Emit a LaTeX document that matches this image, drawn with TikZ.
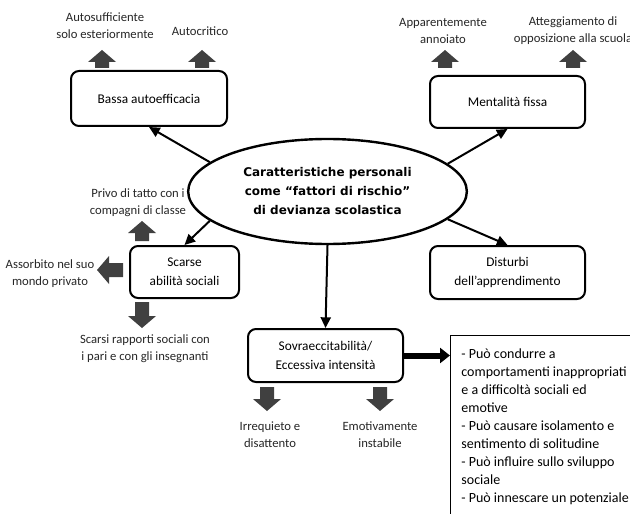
\documentclass[tikz,border=0pt]{standalone}
\usepackage{fontspec}
\setmainfont{Carlito}
\newfontfamily\ellfont{DejaVu Sans}
\usetikzlibrary{arrows.meta}
\usetikzlibrary{shapes.geometric}
\tikzset{box/.style={draw, line width=1.5pt, rounded corners=6pt, align=center, inner sep=0pt, font=\fontsize{10}{14}\selectfont}}
\tikzset{lbl/.style={align=center, inner sep=0pt, text=black!85, font=\fontsize{9.5}{12.75}\selectfont}}
\tikzset{conn/.style={->, line width=1.5pt}}
\tikzset{fat/.style={-{Triangle[length=7.5pt,width=11.25pt]}, line width=4.5pt}}
\tikzset{arrowlen/.store in=\arrowlen, arrowlen=18,
  fatarrow/.pic={\fill[black!75] (-7,0) -- (-7,12-\arrowlen) -- (-14,12-\arrowlen) -- (0,-\arrowlen)
    -- (14,12-\arrowlen) -- (7,12-\arrowlen) -- (7,0) -- cycle;}}

\begin{document}
\begin{tikzpicture}[x=0.75pt, y=-0.75pt, >={Triangle[length=8pt,width=7.5pt]}]
		\useasboundingbox (0,0) rectangle (630,513);
		\clip (0,0) rectangle (630,513);
		% centre
		\node[ellipse, draw, line width=1.8pt, minimum width=209pt, minimum height=78.75pt, inner sep=0pt, align=center,
		  font=\ellfont\bfseries\fontsize{9}{14.25}\selectfont] (ell) at (327.5,191.5)
		  {Caratteristiche personali\\come “fattori di rischio”\\di devianza scolastica};
		% boxes
		\node[box, minimum width=117pt, minimum height=41.25pt] (bassa) at (149,98.5) {Bassa autoefficacia};
		\node[box, minimum width=116.25pt, minimum height=39pt] (mentalita) at (507.5,102) {Mentalità fissa};
		\node[box, minimum width=116.25pt, minimum height=39.75pt] (disturbi) at (507.5,272.5) {Disturbi\\dell’apprendimento};
		\node[box, minimum width=81.75pt, minimum height=39pt] (scarse) at (184.5,272) {Scarse\\abilità sociali};
		\node[box, minimum width=116.25pt, minimum height=39.75pt] (sovra) at (325.5,355.5) {Sovraeccitabilità/\\Eccessiva intensità};
		\node[draw, line width=1.1pt, anchor=north west, inner xsep=8pt, inner ysep=10pt] (note) at (450,335)
		  {\parbox[t][200pt][t]{170pt}{\fontsize{10.5}{13.5}\selectfont
		  - Può condurre a\\comportamenti inappropriati\\e a difficoltà sociali ed\\emotive\\
		  - Può causare isolamento e\\sentimento di solitudine\\- Può influire sullo sviluppo\\sociale\\
		  - Può innescare un potenziale}};
		% labels
		\node[lbl] (autosuff) at (105,26) {Autosufficiente\\solo esteriormente};
		\node[lbl] (autocrit) at (200,31) {Autocritico};
		\node[lbl] (annoiato) at (443,30.5) {Apparentemente\\annoiato};
		\node[lbl] (opposiz) at (573,30.5) {Atteggiamento di\\opposizione alla scuola};
		\node[lbl] (privo) at (138,203) {Privo di tatto con i\\compagni di classe};
		\node[lbl] (assorbito) at (50,273.5) {Assorbito nel suo\\mondo privato};
		\node[lbl] (rapporti) at (145,348.5) {Scarsi rapporti sociali con\\i pari e con gli insegnanti};
		\node[lbl] (irrequieto) at (270,434.5) {Irrequieto e\\disattento};
		\node[lbl] (instabile) at (380,434.5) {Emotivamente\\instabile};
		% block arrows
		\pic at (102,68) {fatarrow};
		\pic at (202,68) {fatarrow};
		\pic at (445,68) {fatarrow};
		\pic at (573,68) {fatarrow};
		\pic[arrowlen=20] at (142,241) {fatarrow};
		\pic[rotate=90, arrowlen=26] at (123,270) {fatarrow};
		\pic[rotate=180, arrowlen=26] at (142,302) {fatarrow};
		\pic[rotate=180, arrowlen=24] at (267,387) {fatarrow};
		\pic[rotate=180, arrowlen=24] at (380,387) {fatarrow};
		% connectors
		\draw[conn] (ell.166) -- (bassa.south);
		\draw[conn] (ell.13) -- (mentalita.south);
		\draw[conn] (ell.347) -- (disturbi.north);
		\draw[conn] (ell.194) -- (scarse.north);
		\draw[conn] (ell.south) -- (sovra.north);
		\draw[fat] (sovra.east) -- (sovra.east -| note.west);
\end{tikzpicture}
\end{document}
